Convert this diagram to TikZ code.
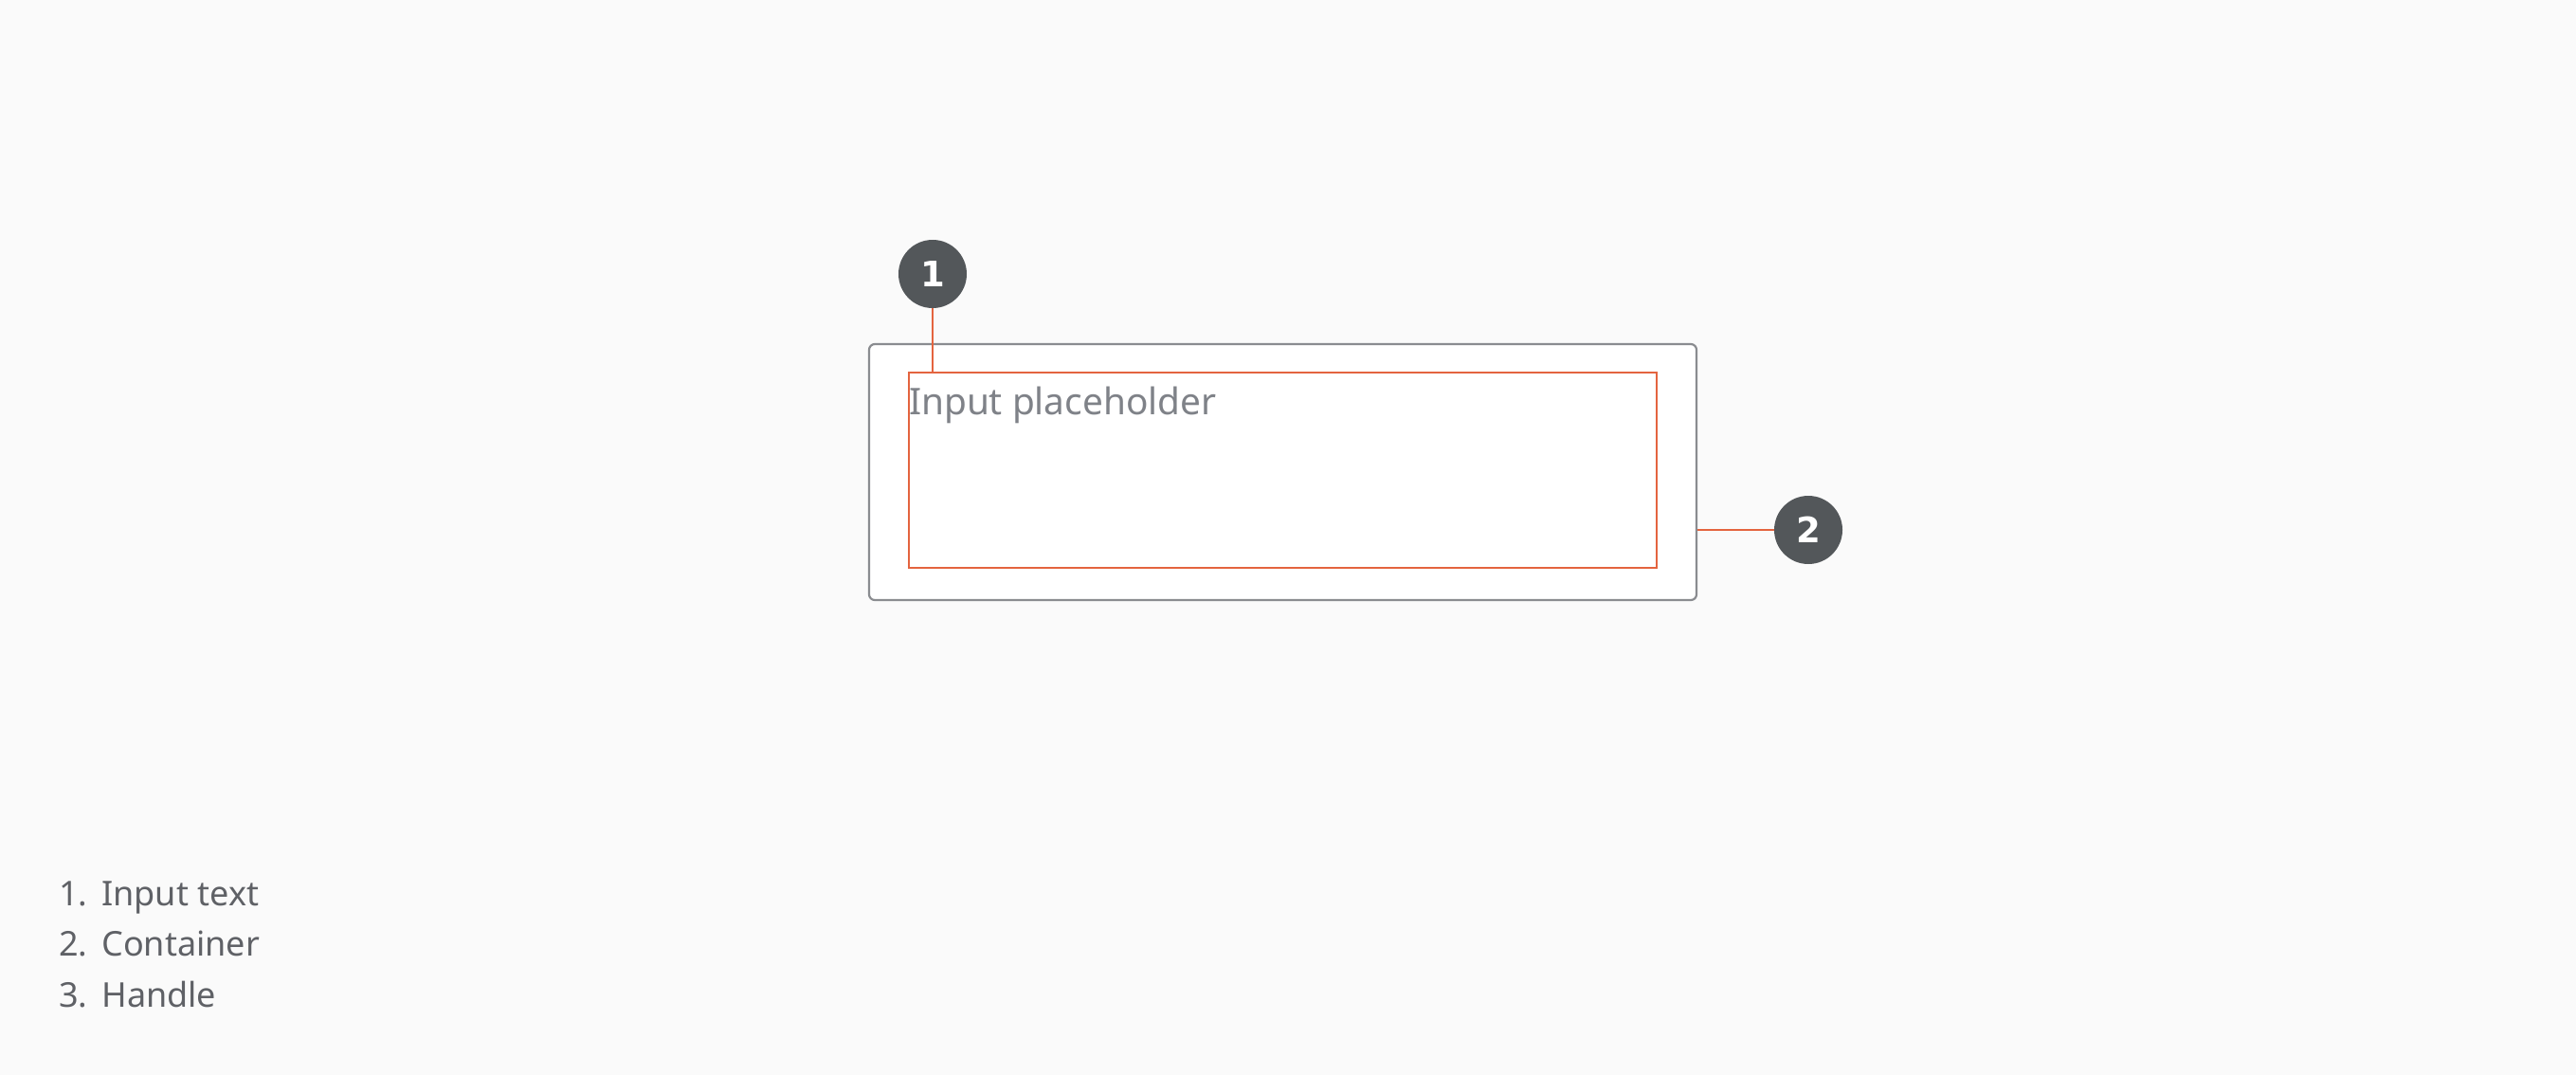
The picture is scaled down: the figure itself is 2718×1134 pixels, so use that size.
\documentclass[tikz,border=0pt]{standalone}
\usepackage{fontspec}
\setmainfont{Noto Sans}
\newfontfamily\markfont{DejaVu Sans}
\definecolor{bg}{HTML}{FAFAFA}
\definecolor{boxgray}{HTML}{8A8C90}
\definecolor{hl}{HTML}{E4643F}
\definecolor{marker}{HTML}{53575A}
\definecolor{phgray}{HTML}{7F8288}
\definecolor{legend}{HTML}{5F6166}
\tikzset{
  containerbox/.style={draw=boxgray, fill=white, line width=1.1pt, rounded corners=3pt, inner sep=0pt},
  hlbox/.style={draw=hl, line width=1.1pt, inner sep=0pt},
  markercircle/.style={circle, fill=marker, text=white, inner sep=0pt, minimum size=36pt, font=\markfont\bfseries\fontsize{18.5}{20}\selectfont},
  hlline/.style={draw=hl, line width=1.1pt},
  legendtext/.style={anchor=base west, inner sep=0pt, text=legend, font=\fontsize{18}{22}\selectfont},
}
\begin{document}
\begin{tikzpicture}[x=0.5pt,y=-0.5pt]
\fill[bg] (0,0) rectangle (2718,1134);
\useasboundingbox (0,0) rectangle (2718,1134);
\node[containerbox, minimum width=436.5pt, minimum height=135pt] (container) at (1353.5,498) {};
\node[hlbox, minimum width=394.6pt, minimum height=102.8pt] (input) at (1353.2,495.9) {};
\node[anchor=base west, inner sep=0pt, text=phgray, font=\fontsize{19.4}{22}\selectfont] (ph) at (958.6,437) {Input placeholder};
\node[markercircle] (m1) at (984,289) {1};
\node[markercircle] (m2) at (1908,559) {2};
\draw[hlline] (m1.south) -- (m1.south |- input.north);
\draw[hlline] (m2.west) -- (m2.west -| container.east);
\node[legendtext] (n1) at (62,955) {1.};
\node[legendtext] (l1) at (107,955) {Input text};
\node[legendtext] (n2) at (62,1008) {2.};
\node[legendtext] (l2) at (107,1008) {Container};
\node[legendtext] (n3) at (62,1062) {3.};
\node[legendtext] (l3) at (107,1062) {Handle};
\end{tikzpicture}
\end{document}
